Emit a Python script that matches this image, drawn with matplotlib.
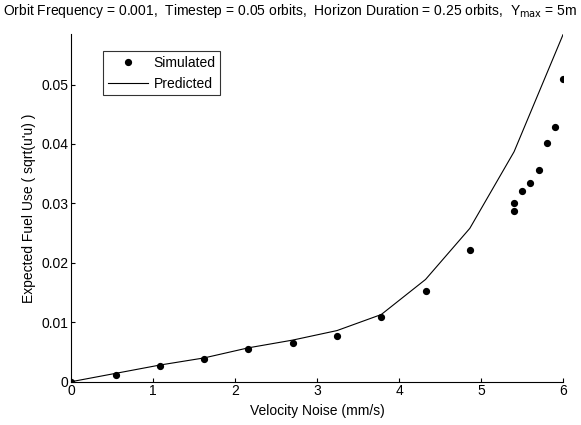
import matplotlib
matplotlib.use("Agg")
import matplotlib.pyplot as plt

plt.rcParams['font.family'] = ['Liberation Sans', 'DejaVu Sans']

# Simulated fuel use per velocity-noise level
sim_noise = [0, 0.54, 1.08, 1.62, 2.16, 2.7, 3.24, 3.78, 4.32, 4.86,
             5.4, 5.4, 5.5, 5.6, 5.7, 5.8, 5.9, 6.0]
sim_fuel = [0, 0.0012, 0.0026, 0.0039, 0.0055, 0.0065, 0.0077, 0.0109,
            0.0153, 0.0221, 0.0300, 0.0288, 0.0321, 0.0335, 0.0357,
            0.0401, 0.0428, 0.0510]

# Predicted fuel use curve
pred_noise = [0, 0.54, 1.08, 1.62, 2.16, 2.7, 3.24, 3.78, 4.32, 4.86, 5.4, 6.0]
pred_fuel = [0, 0.0014, 0.0028, 0.0040, 0.0057, 0.0070, 0.0086, 0.0113,
             0.0172, 0.0258, 0.0387, 0.0585]

x_ticks = [0, 1, 2, 3, 4, 5, 6]
y_ticks = [0, 0.01, 0.02, 0.03, 0.04, 0.05]
y_tick_labels = ['0', '0.01', '0.02', '0.03', '0.04', '0.05']

fig = plt.figure(figsize=(5.81, 4.25), dpi=100)
ax = fig.add_axes([0.1227, 0.1019, 0.8468, 0.818])

ax.plot(sim_noise, sim_fuel, 'o', color='black', markersize=4.2,
        linestyle='none', label='Simulated')
ax.plot(pred_noise, pred_fuel, '-', color='black', linewidth=0.8,
        label='Predicted')

ax.set_xlim(0, 6)
ax.set_ylim(0, max(pred_fuel))
ax.set_xticks(x_ticks)
ax.set_yticks(y_ticks)
ax.set_yticklabels(y_tick_labels)
ax.tick_params(direction='in', length=3, width=0.8, labelsize=10, pad=2)

for side in ['top', 'right']:
    ax.spines[side].set_visible(False)
for side in ['left', 'bottom']:
    ax.spines[side].set_linewidth(0.8)

ax.set_xlabel('Velocity Noise (mm/s)', fontsize=10, labelpad=4)
ax.set_ylabel("Expected Fuel Use ( sqrt(u'u) )", fontsize=10, labelpad=4)

fig.text(0.5, 0.975,
         'Orbit Frequency = 0.001,  Timestep = 0.05 orbits,  Horizon Duration = 0.25 orbits,  Y$_{\\rm max}$ = 5m',
         ha='center', va='center', fontsize=10)

leg = ax.legend(loc='upper left', bbox_to_anchor=(0.064, 0.952), fontsize=10,
                frameon=True, fancybox=False, edgecolor='black',
                borderpad=0.35, handlelength=2.9, handletextpad=0.4,
                labelspacing=0.5, borderaxespad=0)
leg.get_frame().set_linewidth(0.8)

fig.savefig('out.png', dpi=100)
